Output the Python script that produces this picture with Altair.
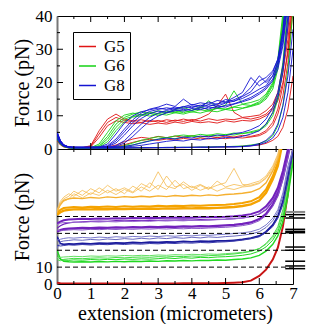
import altair as alt
import pandas as pd

FONT = "Liberation Serif"

# common x grid (micrometers)
X = [0, 0.1, 0.2, 0.35, 0.5, 0.75, 1.0, 1.25, 1.5, 1.75, 2.0, 2.25, 2.5, 2.75, 3.0, 3.25,
     3.5, 3.75, 4.0, 4.25, 4.5, 4.75, 5.0, 5.25, 5.5, 5.75, 6.0, 6.2, 6.4, 6.55, 6.7, 6.85, 7.0]

# ---------- top panel traces (pN) ----------
G5_TRACES = [
    [4.0, 2.0, 1.0, 0.5, 0.4, 0.4, 1.0, 5.5, 9.0, 10.5, 9.0, 8.5, 8.8, 8.2, 8.6, 8.0, 8.7, 8.3, 8.9, 8.4, 9.1, 8.6, 9.0, 8.8, 9.4, 9.0, 9.6, 10.5, 12.5, 16, 23, 33, 48],
    [3.5, 1.8, 0.9, 0.5, 0.4, 0.4, 0.6, 3.5, 7.0, 8.5, 8.0, 7.6, 7.9, 7.4, 7.8, 7.5, 8.1, 7.7, 8.3, 7.9, 8.2, 7.8, 8.5, 8.1, 8.6, 8.4, 9.0, 10.0, 11.8, 14.5, 20, 29, 44],
    [4.5, 2.2, 1.1, 0.6, 0.5, 0.4, 0.8, 4.5, 8.0, 9.5, 8.6, 8.2, 8.0, 8.6, 8.1, 8.8, 8.4, 9.0, 8.5, 9.3, 10.5, 13.0, 16.5, 11.0, 9.5, 9.8, 10.2, 11.5, 13.5, 17, 25, 36, 52],
    [3.0, 1.5, 0.8, 0.4, 0.3, 0.3, 0.3, 0.4, 0.6, 1.2, 2.2, 3.0, 3.5, 3.2, 3.8, 3.4, 3.9, 3.5, 4.0, 3.6, 3.8, 3.4, 3.9, 3.6, 4.1, 3.8, 4.4, 5.5, 8, 12, 19, 30, 46],
    [3.2, 1.6, 0.8, 0.4, 0.3, 0.3, 0.3, 0.3, 0.4, 0.7, 1.3, 2.0, 2.6, 2.9, 2.6, 3.0, 2.7, 3.2, 2.9, 3.3, 3.0, 3.4, 3.1, 3.5, 3.3, 3.6, 4.0, 5.0, 7, 10.5, 16, 26, 42],
    [2.5, 1.2, 0.6, 0.3, 0.2, 0.2, 0.2, 0.2, 0.2, 0.2, 0.3, 0.3, 0.3, 0.3, 0.4, 0.4, 0.4, 0.4, 0.5, 0.5, 0.5, 0.6, 0.6, 0.7, 0.8, 1.0, 1.2, 1.7, 2.6, 3.8, 6.5, 12, 22],
]
G6_TRACES = [
    [4.0, 2.0, 1.0, 0.5, 0.4, 0.4, 0.4, 1.5, 5.0, 8.5, 10.2, 10.8, 10.3, 11.0, 10.6, 11.3, 10.9, 11.5, 11.1, 11.8, 11.4, 12.2, 11.9, 12.6, 12.3, 13.0, 13.8, 15.5, 19, 25, 38, 60, 80],
    [3.6, 1.8, 0.9, 0.5, 0.4, 0.4, 0.4, 1.0, 3.8, 7.5, 9.5, 10.5, 11.2, 10.7, 11.5, 11.0, 11.8, 12.5, 11.6, 12.3, 14.5, 12.4, 13.2, 17.5, 13.5, 14.0, 14.8, 16.5, 20, 27, 41, 62, 80],
    [4.3, 2.1, 1.0, 0.5, 0.4, 0.4, 0.4, 0.8, 3.0, 6.5, 9.0, 9.8, 10.4, 9.9, 10.6, 10.2, 10.9, 10.5, 11.2, 10.8, 11.5, 11.2, 11.9, 11.5, 12.2, 12.8, 13.5, 15.0, 18, 24, 36, 57, 80],
    [3.8, 1.9, 0.9, 0.5, 0.4, 0.4, 0.4, 0.6, 2.2, 5.5, 8.2, 9.6, 10.0, 10.7, 10.1, 10.8, 11.4, 10.9, 11.6, 12.8, 11.7, 12.3, 12.0, 12.7, 13.4, 13.1, 14.2, 16.0, 19.5, 26, 39, 61, 80],
    [3.0, 1.5, 0.8, 0.4, 0.3, 0.3, 0.3, 0.3, 0.4, 0.6, 1.0, 1.8, 2.6, 3.2, 3.7, 3.4, 3.9, 4.2, 3.9, 4.4, 4.1, 4.6, 4.3, 4.8, 4.6, 5.2, 5.8, 7.5, 11, 16, 26, 43, 70],
    [3.4, 1.7, 0.8, 0.4, 0.3, 0.3, 0.3, 0.3, 0.3, 0.4, 0.7, 1.2, 1.9, 2.5, 3.0, 3.4, 3.1, 3.6, 3.9, 3.6, 4.2, 3.9, 4.4, 4.2, 4.7, 4.9, 5.5, 7.0, 10, 15, 24, 40, 66],
    [2.8, 1.4, 0.7, 0.3, 0.2, 0.2, 0.2, 0.2, 0.2, 0.2, 0.3, 0.3, 0.3, 0.4, 0.4, 0.4, 0.5, 0.5, 0.5, 0.6, 0.6, 0.7, 0.7, 0.8, 0.9, 1.2, 1.6, 2.4, 4, 7, 13, 24, 42],
]
G8_TRACES = [
    [5.0, 2.5, 1.2, 0.6, 0.5, 0.5, 0.5, 0.6, 1.5, 4.5, 7.8, 10.0, 11.2, 11.8, 12.3, 11.9, 12.6, 12.2, 12.9, 12.5, 13.3, 12.9, 13.8, 14.4, 15.2, 16.5, 18.0, 19.0, 22, 26, 34, 48, 70],
    [4.6, 2.3, 1.1, 0.6, 0.5, 0.5, 0.5, 0.5, 1.0, 3.0, 6.0, 8.8, 10.8, 12.0, 12.6, 13.5, 12.8, 15.0, 13.2, 13.9, 13.5, 14.6, 14.2, 15.5, 17.0, 21.5, 19.0, 20.5, 23, 27, 36, 52, 75],
    [5.2, 2.6, 1.3, 0.6, 0.5, 0.5, 0.5, 0.5, 0.7, 1.8, 4.2, 7.0, 9.2, 10.6, 11.4, 11.0, 11.8, 11.4, 12.2, 11.8, 12.6, 12.3, 13.1, 13.6, 14.5, 15.5, 17.0, 18.5, 21, 25, 32, 45, 68],
    [4.2, 2.1, 1.0, 0.5, 0.5, 0.5, 0.5, 0.5, 0.5, 1.0, 2.5, 5.0, 7.5, 9.5, 10.8, 11.6, 12.1, 12.8, 12.4, 13.2, 12.8, 13.6, 14.0, 14.8, 16.0, 18.5, 22.0, 20.0, 22, 26, 33, 46, 68],
    [4.4, 2.2, 1.1, 0.5, 0.5, 0.5, 0.5, 0.5, 0.8, 2.4, 5.2, 8.0, 10.1, 11.3, 11.9, 12.4, 12.0, 12.7, 13.4, 12.9, 14.1, 13.4, 14.9, 14.3, 15.8, 17.2, 20.5, 21.5, 23.5, 27, 35, 50, 72],
    [4.9, 2.4, 1.2, 0.6, 0.5, 0.5, 0.5, 0.5, 0.5, 0.8, 1.8, 3.8, 6.2, 8.4, 9.9, 10.9, 11.5, 11.9, 11.6, 12.4, 12.0, 12.9, 12.6, 13.5, 14.2, 15.0, 16.5, 18.0, 20.5, 24, 31, 44, 66],
    [4.8, 2.4, 1.2, 0.6, 0.5, 0.5, 0.5, 0.5, 0.5, 0.6, 0.8, 1.2, 1.8, 2.4, 2.9, 3.3, 3.0, 3.6, 3.3, 3.9, 3.6, 4.2, 4.0, 4.6, 5.0, 5.8, 7.0, 9.0, 12.5, 17, 25, 40, 62],
    [4.0, 2.0, 1.0, 0.5, 0.4, 0.4, 0.4, 0.4, 0.4, 0.5, 0.6, 0.8, 1.1, 1.5, 1.9, 2.3, 2.6, 2.4, 2.9, 2.7, 3.2, 3.0, 3.5, 3.3, 3.8, 4.5, 5.5, 7.5, 11, 15.5, 23, 37, 58],
    [3.5, 1.8, 0.9, 0.4, 0.3, 0.3, 0.3, 0.3, 0.3, 0.3, 0.3, 0.4, 0.4, 0.4, 0.4, 0.5, 0.5, 0.5, 0.5, 0.6, 0.6, 0.6, 0.7, 0.7, 0.8, 1.0, 1.6, 2.6, 4.5, 7.5, 13, 22, 36],
    [3.0, 1.5, 0.8, 0.4, 0.3, 0.3, 0.3, 0.3, 0.3, 0.3, 0.3, 0.3, 0.4, 0.4, 0.4, 0.4, 0.4, 0.5, 0.5, 0.5, 0.5, 0.6, 0.6, 0.6, 0.7, 0.9, 1.3, 2.0, 3.3, 5.5, 9.5, 17, 30],
]
TOP_GROUPS = ["G5", "G6", "G8"]
TOP_COLORS = ["#e01414", "#14d214", "#1414d2"]

# ---------- bottom panel traces (offset curves, pN) ----------
RED_B = [
    [0.8, 0.5, 0.3, 0.3, 0.3, 0.3, 0.3, 0.3, 0.3, 0.3, 0.3, 0.3, 0.3, 0.3, 0.3, 0.3, 0.3, 0.4, 0.4, 0.4, 0.4, 0.5, 0.6, 0.8, 1.0, 2.0, 4.8, 8.5, 14.5, 21.5, 34, 54, 80],
]
GREEN_B = [
    [20, 15, 13.5, 13.2, 13.0, 13.2, 13.0, 13.3, 13.1, 13.4, 13.2, 13.5, 13.3, 13.6, 13.4, 13.8, 13.6, 13.9, 13.7, 14.0, 13.9, 14.2, 14.1, 14.5, 14.8, 15.5, 17.0, 19.5, 23.5, 28.5, 37, 52, 72],
    [17, 14.5, 14.2, 14.0, 14.3, 14.1, 14.5, 14.3, 14.6, 14.4, 14.8, 14.6, 14.9, 14.7, 15.0, 15.4, 15.1, 15.6, 15.3, 15.8, 15.6, 16.0, 16.2, 16.5, 17.0, 17.8, 19.5, 22, 26, 31, 40, 55, 75],
    [15.5, 15.8, 16.0, 16.2, 16.4, 16.2, 16.6, 16.4, 16.7, 16.5, 16.9, 16.7, 17.0, 16.8, 17.2, 17.0, 17.4, 17.2, 17.6, 17.4, 17.8, 17.6, 18.0, 18.3, 18.8, 19.5, 21, 23.5, 27.5, 32.5, 42, 58, 78],
    [14.5, 13.8, 14.6, 14.9, 15.2, 15.0, 15.3, 15.5, 15.3, 15.7, 15.5, 15.8, 16.0, 15.8, 16.2, 16.0, 16.4, 16.2, 16.6, 16.4, 16.8, 17.0, 17.4, 17.8, 18.4, 19.3, 21, 24, 28.5, 34, 44, 60, 80],
]
BLUE_B = [
    [28, 24, 23.5, 23.8, 23.6, 24.0, 23.8, 24.2, 24.0, 24.4, 24.2, 24.6, 24.4, 24.8, 24.6, 25.0, 24.8, 25.2, 25.0, 25.4, 25.2, 25.6, 25.5, 25.9, 26.4, 27.2, 28.5, 31, 35, 40, 49, 64, 80],
    [21, 25, 25.5, 25.8, 26.2, 25.9, 26.4, 26.1, 26.7, 26.3, 26.9, 26.5, 27.1, 26.7, 27.3, 26.9, 27.5, 27.1, 27.7, 27.3, 27.9, 27.6, 28.1, 28.4, 28.9, 29.6, 31, 33.5, 37.5, 42.5, 52, 67, 80],
    [26, 26.5, 27.0, 27.4, 27.2, 27.6, 27.3, 27.8, 27.5, 28.0, 27.7, 28.2, 27.9, 28.4, 28.1, 28.6, 28.3, 28.8, 28.5, 29.0, 28.8, 29.2, 29.5, 29.9, 30.3, 31.0, 32.5, 35, 39, 44, 54, 70, 80],
    [23, 22.5, 22.8, 23.2, 23.0, 23.4, 23.1, 23.5, 23.3, 23.7, 23.4, 23.8, 23.6, 24.0, 23.8, 24.2, 24.0, 24.4, 24.2, 24.6, 24.4, 24.8, 25.0, 25.4, 26.0, 26.8, 28, 30.5, 34, 39, 47, 61, 78],
]
PURPLE_B = [
    [33, 34.5, 35.5, 36.2, 36.6, 36.9, 37.1, 37.3, 37.2, 37.5, 37.4, 37.6, 37.5, 37.8, 37.7, 37.9, 37.8, 38.0, 37.9, 38.1, 38.0, 38.3, 38.4, 38.7, 39.2, 40.0, 41.5, 44, 49, 55, 65, 78, 90],
    [31, 32.0, 32.5, 32.8, 33.0, 33.2, 33.1, 33.4, 33.3, 33.5, 33.4, 33.7, 33.6, 33.8, 33.7, 34.0, 33.9, 34.1, 34.0, 34.3, 34.2, 34.5, 34.7, 35.0, 35.6, 36.5, 38.5, 41.5, 47, 53, 63, 76, 90],
    [35, 36.0, 36.5, 36.3, 36.7, 36.5, 36.9, 36.7, 37.0, 36.8, 37.2, 37.0, 37.3, 37.1, 37.5, 37.3, 37.6, 37.4, 37.8, 37.6, 37.9, 38.1, 38.3, 38.6, 39.0, 39.8, 41.5, 44.5, 50, 56, 66, 80, 90],
    [32, 31.5, 31.8, 32.0, 32.2, 32.0, 32.4, 32.2, 32.5, 32.3, 32.6, 32.4, 32.7, 32.5, 32.8, 32.6, 32.9, 32.7, 33.0, 32.9, 33.2, 33.4, 33.6, 34.0, 34.6, 35.5, 37.5, 40.5, 46, 52, 62, 75, 90],
    [36, 37.0, 37.8, 38.2, 38.4, 38.6, 38.5, 38.8, 38.7, 38.9, 38.8, 39.1, 39.0, 39.2, 39.1, 39.3, 39.2, 39.4, 39.3, 39.6, 39.5, 39.7, 39.8, 40.1, 40.6, 41.4, 43, 46, 51, 57, 67, 80, 90],
]
ORANGE_B = [
    [41, 42.5, 43.5, 44.0, 44.2, 44.3, 44.2, 44.4, 44.3, 44.5, 44.4, 44.6, 44.5, 44.7, 44.6, 44.8, 44.7, 44.9, 44.8, 45.0, 44.9, 45.1, 45.3, 45.6, 46.2, 47.2, 49.5, 54, 62, 70, 85, 95, 100],
    [42, 44.0, 45.0, 45.3, 45.6, 45.4, 45.8, 45.6, 45.9, 45.7, 46.0, 45.8, 46.1, 45.9, 46.3, 46.1, 46.4, 46.2, 46.5, 46.3, 46.6, 46.8, 47.0, 47.4, 48.0, 49.0, 51.5, 56, 64, 72, 86, 95, 100],
    [43, 47, 49.5, 50.5, 51.0, 50.6, 51.3, 50.9, 51.6, 51.2, 51.8, 51.4, 52.0, 51.6, 52.2, 51.8, 52.4, 52.0, 52.6, 52.2, 52.8, 52.4, 53.0, 53.3, 53.8, 54.5, 56.5, 60, 67, 74, 88, 95, 100],
    [44, 49, 51.5, 53.5, 52.0, 55.5, 53.0, 57.0, 54.0, 56.5, 53.5, 58.0, 55.0, 60.0, 56.0, 64.0, 57.5, 59.0, 55.5, 58.5, 56.0, 61.0, 57.5, 59.0, 58.0, 59.5, 61, 64, 70, 77, 90, 95, 100],
    [42, 48, 50.5, 52.0, 55.0, 52.5, 56.5, 54.0, 58.5, 55.0, 57.0, 54.5, 59.5, 57.0, 66.5, 58.0, 56.5, 60.5, 57.0, 59.0, 56.5, 58.5, 60.0, 68.5, 59.0, 58.5, 60, 63, 69, 76, 90, 95, 100],
    [43, 47.5, 49.0, 50.5, 53.5, 51.0, 54.0, 52.5, 55.5, 53.0, 56.0, 54.0, 57.5, 55.0, 58.5, 56.0, 61.5, 56.5, 58.0, 55.5, 57.5, 55.0, 57.0, 56.0, 57.5, 58.0, 59.5, 62.5, 68, 75, 89, 95, 100],
]
BOTTOM_SETS = [
    ("red", RED_B, ["#c81414"], [2.0]),
    ("green", GREEN_B, ["#22d822", "#22d822", "#66e066", "#44dd44"], [1.4, 1.0, 1.0, 1.0]),
    ("blue", BLUE_B, ["#1c1c9c", "#6a6ac0", "#7a7acc", "#3a3aac"], [1.8, 1.0, 1.0, 1.0]),
    ("purple", PURPLE_B, ["#7221bc", "#7221bc", "#9a6ad0", "#8a55c8", "#7221bc"], [1.2, 2.2, 1.0, 1.0, 2.0]),
    ("orange", ORANGE_B, ["#f5a300", "#f5a300", "#f5b030", "#f5bb50", "#f5bb50", "#f5bb50"], [2.4, 2.0, 1.4, 0.8, 0.8, 0.8]),
]
DASH_Y = [10, 20, 30, 40]
RIGHT_TICK_Y = [41.1, 39.1, 32.4, 31.2, 30.4, 21.9, 20.0, 13.5, 10.7, 9.1]
RIGHT_TICK_GREY_Y = [42.7]
RIGHT_TICK_X = (6.77, 7.36)

X_LABELS = [0, 1, 2, 3, 4, 5, 6, 7]
X_MAJOR = [1, 2, 3, 4, 5, 6]
X_MINOR = [0.5, 1.5, 2.5, 3.5, 4.5, 5.5, 6.5]
Y_TOP_LABELS = [0, 10, 20, 30, 40]
Y_BOT_LABELS = [0, 10]
Y_TOP_MAJOR = [10, 20, 30]
Y_TOP_MINOR = [5, 15, 25, 35]

W, H_TOP, H_BOT = 236, 133, 135

# ---------- build tables ----------
top_rows = []
for grp, traces in zip(TOP_GROUPS, [G5_TRACES, G6_TRACES, G8_TRACES]):
    for i, tr in enumerate(traces):
        for x, y in zip(X, tr):
            top_rows.append({"x": x, "y": y, "group": grp, "trace": f"{grp}-{i}"})
top_df = pd.DataFrame(top_rows)

bot_rows = []
order = 0
for name, traces, cols, widths in BOTTOM_SETS:
    for i, tr in enumerate(traces):
        for x, y in zip(X, tr):
            bot_rows.append({"x": x, "y": y, "trace": f"{order:02d}-{name}-{i}",
                             "col": cols[i], "w": widths[i]})
        order += 1
bot_df = pd.DataFrame(bot_rows)

xt_df = pd.DataFrame({"x": X_MAJOR + X_MINOR,
                      "len": [6] * len(X_MAJOR) + [3] * len(X_MINOR)})
yt_df = pd.DataFrame({"y": Y_TOP_MAJOR + Y_TOP_MINOR,
                      "len": [6] * len(Y_TOP_MAJOR) + [3] * len(Y_TOP_MINOR)})
dash_df = pd.DataFrame({"y": DASH_Y, "x": [0] * 4, "x1": [7] * 4})
rt_df = pd.DataFrame({"y": RIGHT_TICK_Y + RIGHT_TICK_GREY_Y,
                      "c": ["black"] * len(RIGHT_TICK_Y) + ["#888888"],
                      "sw": [1.5] * len(RIGHT_TICK_Y) + [2.0],
                      "x": [RIGHT_TICK_X[0]] * (len(RIGHT_TICK_Y) + 1),
                      "x1": [RIGHT_TICK_X[1]] * (len(RIGHT_TICK_Y) + 1)})

xs = alt.Scale(domain=[0, 7], nice=False, zero=False)
ys_top = alt.Scale(domain=[0, 40], nice=False)
ys_bot = alt.Scale(domain=[0, 80], nice=False)

AX = dict(ticks=False, grid=False, labelFont=FONT, titleFont=FONT, labelFontSize=17,
          titleFontSize=20, titleFontWeight="normal", labelColor="black",
          titleColor="black", labelOverlap=False, labelFlush=False)

AX_TOP_Y = alt.Axis(values=Y_TOP_LABELS, title="Force (pN)", labelPadding=5,
                    titlePadding=3, domainColor="#777777", domainWidth=2, **AX)
AX_BOT_Y = alt.Axis(values=Y_BOT_LABELS, title="Force (pN)", labelPadding=5,
                    titlePadding=3, domainColor="#777777", domainWidth=2, **AX)
AX_BOT_X = alt.Axis(values=X_LABELS, title="extension (micrometers)", domain=False,
                    labelPadding=1, titlePadding=2, **AX)


def xtick_layers(height, xaxis):
    layers = []
    for ln in (6, 3):
        sub = xt_df[xt_df["len"] == ln]
        layers.append(alt.Chart(sub).mark_rule(color="black", strokeWidth=1).encode(
            x=alt.X("x:Q", scale=xs, axis=xaxis), y=alt.value(height), y2=alt.value(height - ln)))
        layers.append(alt.Chart(sub).mark_rule(color="black", strokeWidth=1).encode(
            x=alt.X("x:Q", scale=xs, axis=xaxis), y=alt.value(0), y2=alt.value(ln)))
    return layers


# ---------- top panel ----------
top_lines = alt.Chart(top_df).mark_line(clip=True, strokeWidth=0.9).encode(
    x=alt.X("x:Q", scale=xs, axis=None),
    y=alt.Y("y:Q", scale=ys_top, axis=AX_TOP_Y),
    color=alt.Color("group:N", scale=alt.Scale(domain=TOP_GROUPS, range=TOP_COLORS),
                    legend=alt.Legend(orient="none", legendX=16, legendY=16, title=None,
                                      strokeColor="black", fillColor="white", padding=5,
                                      symbolType="stroke", symbolSize=289,
                                      symbolStrokeWidth=1.5, labelFont=FONT,
                                      labelFontSize=17, labelColor="black",
                                      rowPadding=1.5, labelOffset=7)),
    detail="trace:N",
)

ytick_layers = []
for ln in (6, 3):
    sub = yt_df[yt_df["len"] == ln]
    ytick_layers.append(alt.Chart(sub).mark_rule(color="black", strokeWidth=1).encode(
        y=alt.Y("y:Q", scale=ys_top, axis=AX_TOP_Y), x=alt.value(0), x2=alt.value(ln)))
    ytick_layers.append(alt.Chart(sub).mark_rule(color="black", strokeWidth=1).encode(
        y=alt.Y("y:Q", scale=ys_top, axis=AX_TOP_Y), x=alt.value(W), x2=alt.value(W - ln)))

top = alt.layer(top_lines, *ytick_layers, *xtick_layers(H_TOP, None)).properties(
    width=W, height=H_TOP)

# ---------- bottom panel ----------
bot_lines = alt.Chart(bot_df).mark_line(clip=True).encode(
    x=alt.X("x:Q", scale=xs, axis=AX_BOT_X),
    y=alt.Y("y:Q", scale=ys_bot, axis=AX_BOT_Y),
    color=alt.Color("col:N", scale=None),
    strokeWidth=alt.StrokeWidth("w:Q", scale=None),
    detail="trace:N",
    order=alt.Order("trace:N"),
)

dashes = alt.Chart(dash_df).mark_rule(color="black", strokeDash=[5, 3], strokeWidth=1).encode(
    y=alt.Y("y:Q", scale=ys_bot, axis=AX_BOT_Y),
    x=alt.X("x:Q", scale=xs, axis=AX_BOT_X), x2="x1:Q")

rticks = alt.Chart(rt_df).mark_rule().encode(
    y=alt.Y("y:Q", scale=ys_bot, axis=AX_BOT_Y),
    x=alt.X("x:Q", scale=xs, axis=AX_BOT_X), x2="x1:Q",
    color=alt.Color("c:N", scale=None), strokeWidth=alt.StrokeWidth("sw:Q", scale=None))

bottom = alt.layer(bot_lines, dashes, rticks, *xtick_layers(H_BOT, AX_BOT_X)).properties(
    width=W, height=H_BOT)

chart = alt.vconcat(top, bottom, spacing=0, bounds="flush").resolve_scale(
    color="independent", strokeWidth="independent").properties(
    padding={"left": 3, "top": -2, "right": 2, "bottom": 0}
).configure_view(stroke="black", strokeWidth=1)

chart.save("out.html", embed_options={"renderer": "svg", "actions": False})
